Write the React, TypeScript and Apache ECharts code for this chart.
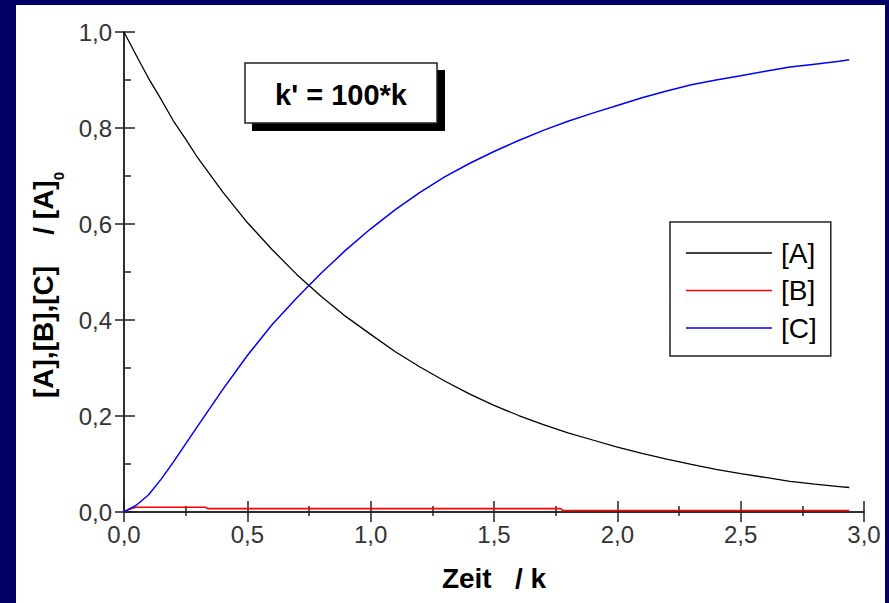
import React, { useEffect, useRef } from 'react';
import * as echarts from 'echarts';

// time axis (Zeit / k) for [A] and [C]
const timeAC = [0, 0.05, 0.1, 0.15, 0.2, 0.25, 0.3, 0.4, 0.5, 0.6, 0.7, 0.8, 0.9, 1.0, 1.1, 1.2, 1.3, 1.4, 1.5, 1.6, 1.7, 1.8, 1.9, 2.0, 2.1, 2.2, 2.3, 2.4, 2.5, 2.6, 2.7, 2.8, 2.9, 2.94];
const valuesA = [1.0, 0.951, 0.903, 0.86, 0.815, 0.777, 0.737, 0.667, 0.603, 0.547, 0.495, 0.449, 0.407, 0.37, 0.334, 0.302, 0.273, 0.246, 0.222, 0.201, 0.182, 0.165, 0.15, 0.135, 0.122, 0.11, 0.099, 0.089, 0.08, 0.072, 0.064, 0.058, 0.053, 0.051];
const valuesC = [0, 0.014, 0.036, 0.068, 0.104, 0.142, 0.18, 0.255, 0.326, 0.39, 0.446, 0.498, 0.546, 0.59, 0.63, 0.666, 0.698, 0.726, 0.751, 0.774, 0.795, 0.814, 0.831, 0.847, 0.863, 0.877, 0.89, 0.9, 0.909, 0.918, 0.927, 0.933, 0.939, 0.942];
// [B] (stepped as drawn)
const timeB = [0, 0.02, 0.05, 0.33, 0.34, 1.77, 1.78, 2.94];
const valuesB = [0, 0.006, 0.010, 0.010, 0.007, 0.007, 0.003, 0.003];

const seriesNames = ['[A]', '[B]', '[C]'];
const xTitle = 'Zeit   / k';
const yTitle = '[A],[B],[C]    / [A]{sub|0}';
const annotation = "k' = 100*k";

const FONT = '"Liberation Sans", Arial, sans-serif';
const fmt = (v: number) => v.toFixed(1).replace('.', ',');
const pairs = (xs: number[], ys: number[]) => xs.map((x, i) => [x, ys[i]]);

export default function App() {
  const ref = useRef<HTMLDivElement>(null);
  useEffect(() => {
    const chart = echarts.init(ref.current!, null, { renderer: 'svg' });
    const axisLine = { show: true, lineStyle: { color: '#222', width: 1.5 } };
    chart.setOption({
      animation: false,
      backgroundColor: 'transparent',
      grid: { left: 124, top: 32, right: 25, bottom: 91, containLabel: false },
      xAxis: [
        {
          type: 'value', min: 0, max: 3, interval: 0.5, position: 'bottom',
          axisLine, splitLine: { show: false },
          axisTick: { show: true, inside: true, length: 11, lineStyle: { color: '#222', width: 1.5 } },
          minorTick: { show: true, splitNumber: 2, length: 6, lineStyle: { color: '#222', width: 1.5 } },
          axisLabel: { formatter: fmt, fontSize: 24, fontFamily: FONT, color: '#333', margin: 10 },
          name: xTitle, nameLocation: 'middle', nameGap: 52,
          nameTextStyle: { fontSize: 28, fontWeight: 'bold', fontFamily: FONT, color: '#000' },
        },
        {
          type: 'value', min: 0, max: 3, interval: 0.5, position: 'top',
          axisLine, splitLine: { show: false }, axisLabel: { show: false },
          axisTick: { show: true, inside: true, length: 10, lineStyle: { color: '#222', width: 1.5 } },
          minorTick: { show: true, splitNumber: 2, length: 4, lineStyle: { color: '#222', width: 1.5 } },
        },
      ],
      yAxis: [
        {
          type: 'value', min: 0, max: 1, interval: 0.2, position: 'left',
          axisLine, splitLine: { show: false },
          axisTick: { show: true, inside: true, length: 11, lineStyle: { color: '#222', width: 1.5 } },
          minorTick: { show: true, splitNumber: 2, length: 7, lineStyle: { color: '#222', width: 1.5 } },
          axisLabel: { formatter: fmt, fontSize: 24, fontFamily: FONT, color: '#333', margin: 12 },
          name: yTitle, nameLocation: 'middle', nameGap: 58, nameRotate: 90,
          nameTextStyle: {
            fontSize: 28, fontWeight: 'bold', fontFamily: FONT, color: '#000', lineHeight: 46,
            padding: [0, 26, 0, 0],
            rich: { sub: { fontSize: 15, fontWeight: 'bold', fontFamily: FONT, color: '#000', lineHeight: 10, verticalAlign: 'bottom' } },
          },
        },
        {
          type: 'value', min: 0, max: 1, interval: 0.2, position: 'right',
          axisLine, splitLine: { show: false }, axisLabel: { show: false },
          axisTick: { show: true, inside: true, length: 9, lineStyle: { color: '#222', width: 1.5 } },
        },
      ],
      legend: {
        data: seriesNames, orient: 'vertical', left: 670, top: 222,
        icon: 'rect',
        padding: [13, 14, 10, 16], itemWidth: 86, itemHeight: 1.5, itemGap: 1.5,
        backgroundColor: '#fff', borderColor: '#222', borderWidth: 1.5,
        textStyle: { fontSize: 28, fontFamily: FONT, color: '#000', lineHeight: 14, padding: [22, 0, 0, 4] },
      },
      graphic: [
        { type: 'rect', shape: { x: 252, y: 70, width: 193, height: 61 }, style: { fill: '#000' }, z: 10 },
        { type: 'rect', shape: { x: 245, y: 63, width: 192, height: 60 }, style: { fill: '#fff', stroke: '#222', lineWidth: 1.5 }, z: 11 },
        {
          type: 'text', x: 341, y: 95, z: 12,
          style: { text: annotation, fontSize: 29, fontWeight: 'bold', fontFamily: FONT, fill: '#000', align: 'center', verticalAlign: 'middle' },
        },
      ],
      series: [
        { name: seriesNames[0], type: 'line', data: pairs(timeAC, valuesA), symbol: 'none', lineStyle: { color: '#000', width: 1.3 }, itemStyle: { color: '#000' } },
        { name: seriesNames[1], type: 'line', data: pairs(timeB, valuesB), symbol: 'none', lineStyle: { color: '#ff0000', width: 1.6 }, itemStyle: { color: '#ff0000' } },
        { name: seriesNames[2], type: 'line', data: pairs(timeAC, valuesC), symbol: 'none', lineStyle: { color: '#0000ff', width: 1.5 }, itemStyle: { color: '#0000ff' } },
      ],
    });
    return () => chart.dispose();
  }, []);
  return (
    <div style={{ position: 'fixed', left: 0, top: 0, width: 889, height: 603, background: '#000066', overflow: 'hidden' }}>
      <div style={{ position: 'absolute', left: 16, top: 5, width: 869, height: 598, background: '#fff' }} />
      <div ref={ref} style={{ position: 'absolute', left: 0, top: 0, width: 889, height: 603 }} />
    </div>
  );
}
